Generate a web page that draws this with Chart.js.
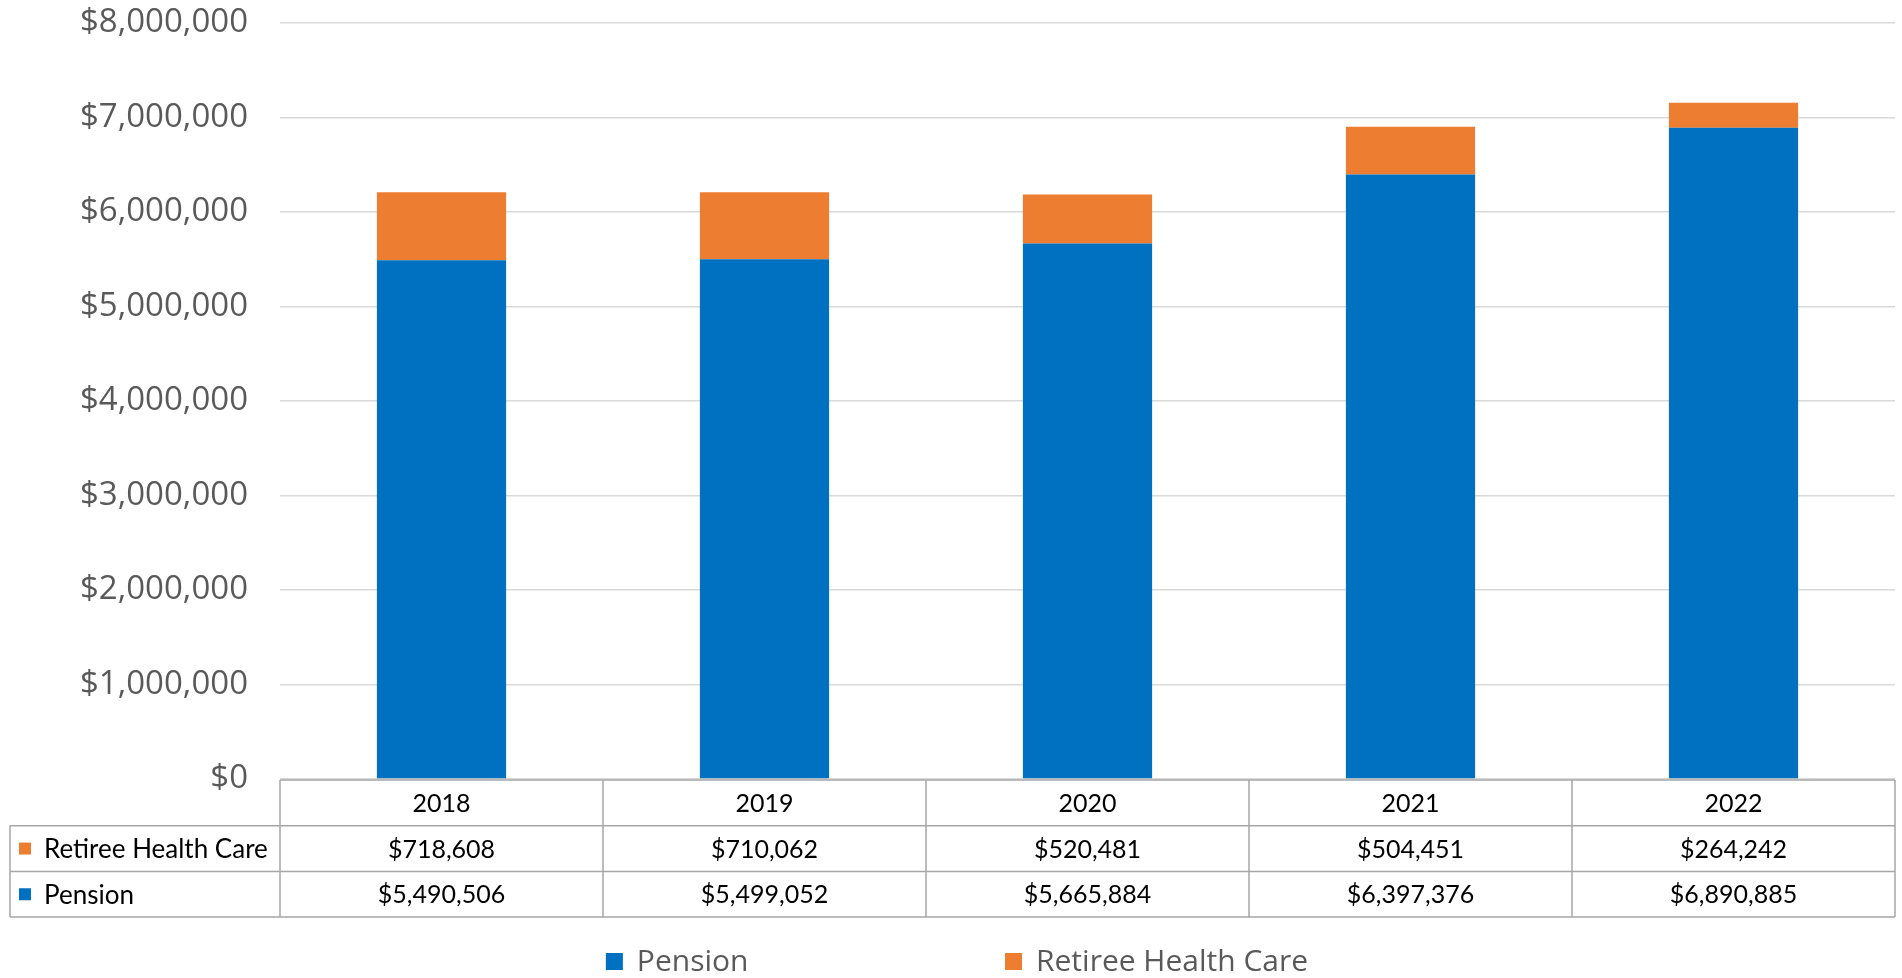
<!DOCTYPE html>
<html>
<head>
<meta charset="utf-8">
<script src="https://cdn.jsdelivr.net/npm/chart.js@4.4.1/dist/chart.umd.min.js"></script>
<style>
  html, body { margin: 0; padding: 0; background: #fff; }
  #wrap { width: 1902px; height: 978px; }
</style>
</head>
<body>
<div id="wrap"><canvas id="chart" width="1902" height="978"></canvas></div>
<script>
// years along the bottom
var years = ['2018', '2019', '2020', '2021', '2022'];
// pension contributions (bottom of each stack)
var pension = [5490506, 5499052, 5665884, 6397376, 6890885];
// retiree health care (top of each stack)
var retireeHealth = [718608, 710062, 520481, 504451, 264242];
// y axis ticks
var yTicks = [0, 1000000, 2000000, 3000000, 4000000, 5000000, 6000000, 7000000, 8000000];

var blue = '#0070C0';
var orange = '#ED7D31';
var tableFont = '25px Lato, "Liberation Sans", sans-serif';
var labelFont = '"Open Sans", sans-serif';

function money(v) {
  return '$' + Math.round(v).toLocaleString('en-US');
}

// draws the data table under the plot and the legend below it
var dataTablePlugin = {
  id: 'dataTable',
  afterDraw: function (chart) {
    var ctx = chart.ctx;
    var x = chart.scales.x;
    var area = chart.chartArea;
    var n = years.length;
    var colW = (x.right - x.left) / n;
    var rowH = 45.7;
    var top = area.bottom + 1;
    var rowsY = [top, top + rowH, top + rowH * 2, top + rowH * 3];
    var tableLeft = 10;

    ctx.save();
    ctx.strokeStyle = '#a6a6a6';
    ctx.lineWidth = 1.5;
    ctx.beginPath();
    // horizontal lines
    ctx.moveTo(x.left, rowsY[0]); ctx.lineTo(x.right, rowsY[0]);
    for (var r = 1; r < 4; r++) {
      ctx.moveTo(tableLeft, rowsY[r]); ctx.lineTo(x.right, rowsY[r]);
    }
    // vertical lines
    ctx.moveTo(tableLeft, rowsY[1]); ctx.lineTo(tableLeft, rowsY[3]);
    for (var i = 0; i <= n; i++) {
      var vx = x.left + colW * i;
      ctx.moveTo(vx, rowsY[0]); ctx.lineTo(vx, rowsY[3]);
    }
    ctx.stroke();

    ctx.fillStyle = '#000';
    ctx.font = tableFont;
    ctx.textAlign = 'center';
    ctx.textBaseline = 'middle';
    var rows = [
      { label: 'Retiree Health Care', color: orange, values: retireeHealth },
      { label: 'Pension', color: blue, values: pension }
    ];
    for (i = 0; i < n; i++) {
      var cx = x.getPixelForValue(i);
      ctx.fillText(years[i], cx, (rowsY[0] + rowsY[1]) / 2 + 1);
      for (r = 0; r < rows.length; r++) {
        ctx.fillText(money(rows[r].values[i]), cx, (rowsY[r + 1] + rowsY[r + 2]) / 2 + 1);
      }
    }
    ctx.textAlign = 'left';
    ctx.font = '26px Lato, "Liberation Sans", sans-serif';
    for (r = 0; r < rows.length; r++) {
      var cy = (rowsY[r + 1] + rowsY[r + 2]) / 2;
      ctx.fillStyle = rows[r].color;
      ctx.fillRect(tableLeft + 9, cy - 6, 12, 12);
      ctx.fillStyle = '#000';
      ctx.fillText(rows[r].label, tableLeft + 34, cy + 1);
    }

    // legend: equal slots, centred
    ctx.font = '30px ' + labelFont;
    var items = chart.data.datasets.map(function (ds) {
      return { text: ds.label, color: ds.backgroundColor, w: 31 + ctx.measureText(ds.label).width };
    });
    var slot = Math.max.apply(null, items.map(function (it) { return it.w; })) + 96;
    var total = slot * (items.length - 1) + items[items.length - 1].w;
    var lx = (chart.width - total) / 2 + 6;
    var ly = 961;
    items.forEach(function (it, k) {
      var ix = lx + slot * k;
      ctx.fillStyle = it.color;
      ctx.fillRect(ix, ly - 8, 17, 17);
      ctx.fillStyle = '#595959';
      ctx.fillText(it.text, ix + 31, ly + 1);
    });
    ctx.restore();
  }
};

var chart = new Chart(document.getElementById('chart'), {
  type: 'bar',
  data: {
    labels: years,
    datasets: [
      { label: 'Pension', data: pension, backgroundColor: blue, stack: 's' },
      { label: 'Retiree Health Care', data: retireeHealth, backgroundColor: orange, stack: 's' }
    ]
  },
  options: {
    responsive: false,
    animation: false,
    devicePixelRatio: 1,
    layout: { padding: { top: 0, right: 7, left: 0, bottom: 0 } },
    datasets: { bar: { categoryPercentage: 1, barPercentage: 0.4 } },
    plugins: {
      legend: { display: false },
      tooltip: { enabled: false }
    },
    scales: {
      x: {
        stacked: true,
        grid: { display: false },
        border: { display: false },
        ticks: { display: false },
        afterFit: function (s) { s.height = 199; }
      },
      y: {
        stacked: true,
        min: 0,
        max: 8000000,
        afterBuildTicks: function (s) { s.ticks = yTicks.map(function (v) { return { value: v }; }); },
        grid: { color: '#d9d9d9', lineWidth: 1.5, drawTicks: false },
        border: { display: false },
        ticks: {
          color: '#595959',
          font: { family: labelFont, size: 33 },
          padding: 32,
          callback: function (v) { return money(v); }
        },
        afterFit: function (s) {
          s.width = 280;
          s.paddingTop = 23;
          s.paddingBottom = 0;
        }
      }
    }
  },
  plugins: [dataTablePlugin]
});
</script>
</body>
</html>
